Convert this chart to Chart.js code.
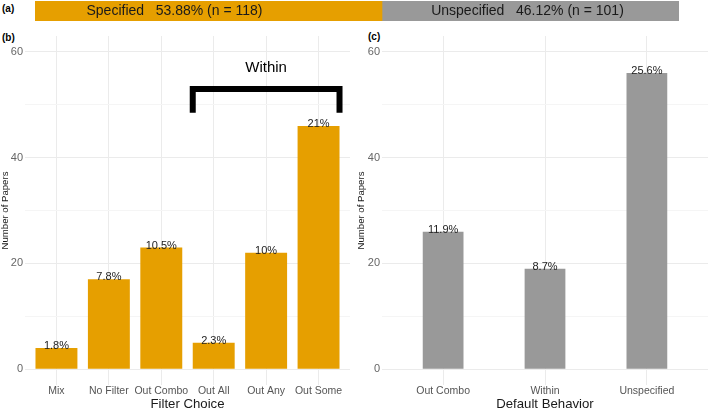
<!DOCTYPE html>
<html>
<head>
<meta charset="utf-8">
<script src="https://cdn.jsdelivr.net/npm/chart.js@4"></script>
<style>
  html, body { margin: 0; padding: 0; background: #fff; }
  body { width: 709px; height: 411px; position: relative; overflow: hidden; font-family: "Liberation Sans", Arial, sans-serif; }
  .box { position: absolute; }
  .tag { position: absolute; font-weight: bold; font-size: 10px; color: #000; line-height: 12px; }
</style>
</head>
<body>
<div class="tag" style="left:2px;top:3px">(a)</div>
<div class="tag" style="left:2px;top:32px">(b)</div>
<div class="tag" style="left:368px;top:31px">(c)</div>

<div class="box" style="left:0;top:0;width:709px;height:24px"><canvas id="shareChart"></canvas></div>
<div class="box" style="left:0;top:24px;width:352px;height:387px"><canvas id="filterChart"></canvas></div>
<div class="box" style="left:340px;top:24px;width:369px;height:387px"><canvas id="defaultChart"></canvas></div>

<script>
// panel (a)
const shareLabels = ["Specified", "Unspecified"];
const shareCounts = [118, 101];
const sharePct = ["53.88%", "46.12%"];

// panel (b)
const filterCats = ["Mix", "No Filter", "Out Combo", "Out All", "Out Any", "Out Some"];
const filterValues = [4, 17, 23, 5, 22, 46];
const filterPct = ["1.8%", "7.8%", "10.5%", "2.3%", "10%", "21%"];

// panel (c)
const defaultCats = ["Out Combo", "Within", "Unspecified"];
const defaultValues = [26, 19, 56];
const defaultPct = ["11.9%", "8.7%", "25.6%"];

const yTicks = [0, 10, 20, 30, 40, 50, 60];

const ORANGE = "#E69F00";
const GREY = "#999999";
const FONT = "'Liberation Sans', Arial, sans-serif";

Chart.defaults.font.family = FONT;
Chart.defaults.animation = false;

// percent text on top of each bar
const pctLabels = {
    id: "pctLabels",
    afterDatasetsDraw(chart, args, opts) {
        const ctx = chart.ctx;
        const meta = chart.getDatasetMeta(0);
        ctx.save();
        ctx.font = "11px " + FONT;
        ctx.fillStyle = "#222";
        ctx.textAlign = "center";
        ctx.textBaseline = "alphabetic";
        meta.data.forEach((bar, i) => {
            ctx.fillText(opts.texts[i], bar.x, bar.y + 1);
        });
        ctx.restore();
    }
};

// "Within" bracket over Out All .. Out Some
const withinBracket = {
    id: "withinBracket",
    afterDatasetsDraw(chart) {
        const x = chart.scales.x, y = chart.scales.y;
        const x0 = x.getPixelForValue(2.6), x1 = x.getPixelForValue(5.4);
        const yTop = y.getPixelForValue(53), yLeg = y.getPixelForValue(48.5);
        const ctx = chart.ctx;
        ctx.save();
        ctx.strokeStyle = "#000";
        ctx.lineWidth = 6;
        ctx.lineJoin = "miter";
        ctx.beginPath();
        ctx.moveTo(x0, yLeg);
        ctx.lineTo(x0, yTop);
        ctx.lineTo(x1, yTop);
        ctx.lineTo(x1, yLeg);
        ctx.stroke();
        ctx.font = "15px " + FONT;
        ctx.fillStyle = "#000";
        ctx.textAlign = "center";
        ctx.textBaseline = "middle";
        ctx.fillText("Within", x.getPixelForValue(4), y.getPixelForValue(57));
        ctx.restore();
    }
};

// text inside the share bar
const shareText = {
    id: "shareText",
    afterDatasetsDraw(chart) {
        const ctx = chart.ctx;
        const offsets = [-34, -3];
        ctx.save();
        ctx.font = "14px " + FONT;
        ctx.fillStyle = "#1a1a1a";
        ctx.textAlign = "center";
        ctx.textBaseline = "middle";
        chart.data.datasets.forEach((ds, d) => {
            const bar = chart.getDatasetMeta(d).data[0];
            const mid = (bar.base + bar.x) / 2;
            const t = shareLabels[d] + "   " + sharePct[d] + " (n = " + shareCounts[d] + ")";
            ctx.fillText(t, mid + offsets[d], bar.y);
        });
        ctx.restore();
    }
};

function panelOptions(cats, barPct, yWidth, yTitlePad) {
    return {
        responsive: true,
        maintainAspectRatio: false,
        layout: { padding: { top: 12, right: 2, left: 0, bottom: 0 } },
        plugins: { legend: { display: false }, tooltip: { enabled: false } },
        datasets: { bar: { categoryPercentage: 1, barPercentage: barPct } },
        scales: {
            x: {
                type: "linear",
                offset: false,
                bounds: "data",
                min: -0.6,
                max: cats.length - 0.4,
                afterBuildTicks: s => { s.ticks = cats.map((c, i) => ({ value: i })); },
                afterFit: s => { s.height = 26; },
                ticks: {
                    callback: v => cats[v],
                    color: "#555",
                    font: { size: 10.5 },
                    padding: 0,
                    maxRotation: 0,
                    autoSkip: false
                },
                grid: { color: "#ebebeb", drawTicks: false, offset: false },
                border: { display: false },
                title: {
                    display: true,
                    color: "#1a1a1a",
                    font: { size: 13.2, lineHeight: 1.06 },
                    padding: 0
                }
            },
            y: {
                min: -3,
                max: 63,
                afterBuildTicks: s => { s.ticks = yTicks.map(v => ({ value: v })); },
                afterFit: s => { s.width = yWidth; },
                ticks: {
                    callback: v => (v % 20 === 0 ? String(v) : ""),
                    color: "#666",
                    font: { size: 11 },
                    padding: 2
                },
                grid: {
                    color: c => (c.tick && c.tick.value % 20 === 0 ? "#ebebeb" : "#f5f5f5"),
                    drawTicks: false
                },
                border: { display: false },
                title: {
                    display: true,
                    text: "Number of Papers",
                    color: "#1a1a1a",
                    font: { size: 9.6 },
                    padding: { top: yTitlePad, bottom: 0 }
                }
            }
        }
    };
}

function renderShare() {
    new Chart(document.getElementById("shareChart").getContext("2d"), {
        type: "bar",
        data: {
            labels: [""],
            datasets: [
                { label: shareLabels[0], data: [shareCounts[0]], backgroundColor: ORANGE },
                { label: shareLabels[1], data: [shareCounts[1]], backgroundColor: GREY }
            ]
        },
        options: {
            indexAxis: "y",
            responsive: true,
            maintainAspectRatio: false,
            layout: { padding: { left: 35, right: 30, top: 1, bottom: 3 } },
            plugins: { legend: { display: false }, tooltip: { enabled: false } },
            datasets: { bar: { categoryPercentage: 1, barPercentage: 1 } },
            scales: {
                x: { stacked: true, display: false, min: 0, max: shareCounts[0] + shareCounts[1] },
                y: { stacked: true, display: false }
            }
        },
        plugins: [shareText]
    });
}

function renderFilter() {
    const opts = panelOptions(filterCats, 0.8, 25, 0);
    opts.scales.x.title.text = "Filter Choice";
    opts.plugins.pctLabels = { texts: filterPct };
    new Chart(document.getElementById("filterChart").getContext("2d"), {
        type: "bar",
        data: {
            datasets: [{
                data: filterValues.map((v, i) => ({ x: i, y: v })),
                backgroundColor: ORANGE
            }]
        },
        options: opts,
        plugins: [pctLabels, withinBracket]
    });
}

function renderDefault() {
    const opts = panelOptions(defaultCats, 0.4, 42, 16);
    opts.layout.padding.right = 1;
    opts.scales.x.title.text = "Default Behavior";
    opts.plugins.pctLabels = { texts: defaultPct };
    new Chart(document.getElementById("defaultChart").getContext("2d"), {
        type: "bar",
        data: {
            datasets: [{
                data: defaultValues.map((v, i) => ({ x: i, y: v })),
                backgroundColor: GREY
            }]
        },
        options: opts,
        plugins: [pctLabels]
    });
}

document.addEventListener("DOMContentLoaded", () => {
    renderShare();
    renderFilter();
    renderDefault();
});
</script>
</body>
</html>
